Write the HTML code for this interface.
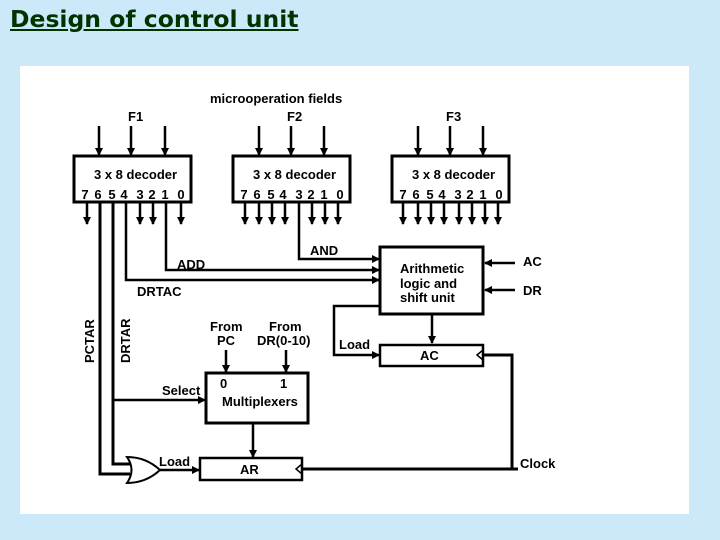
<!DOCTYPE html>
<html><head><style>
body{margin:0;width:720px;height:540px;background:#cce9fa;overflow:hidden;position:relative;font-family:"DejaVu Sans","Liberation Sans",sans-serif}
h1{position:absolute;left:10px;top:5px;margin:0;font-size:23.5px;font-weight:bold;color:#003300;text-decoration:underline}
svg{position:absolute;left:0;top:0}
text{font-family:"Liberation Sans",Arial,sans-serif;font-weight:bold;font-size:13px;fill:#000}
</style></head><body>
<h1>Design of control unit</h1>
<svg width="720" height="540" viewBox="0 0 720 540">
<defs><marker id="a" markerWidth="8" markerHeight="8" refX="7" refY="4" orient="auto" markerUnits="userSpaceOnUse"><path d="M0,0L8,4L0,8z" fill="#000"/></marker></defs>
<rect x="20" y="66" width="669" height="448" fill="#fff"/>
<g stroke="#000" fill="none" stroke-width="3">
<rect x="74" y="156" width="117" height="46"/>
<rect x="233" y="156" width="117" height="46"/>
<rect x="392" y="156" width="117" height="46"/>
<rect x="380" y="247" width="103" height="67"/>
<rect x="380" y="345" width="103" height="21" stroke-width="2.5"/>
<rect x="206" y="373" width="102" height="50"/>
<rect x="200" y="458" width="102" height="22" stroke-width="2.5"/>
</g>
<g stroke="#000" stroke-width="2.5" fill="none" marker-end="url(#a)">
<path d="M99 126V155"/><path d="M131 126V155"/><path d="M165 126V155"/>
<path d="M259 126V155"/><path d="M291 126V155"/><path d="M324 126V155"/>
<path d="M418 126V155"/><path d="M450 126V155"/><path d="M483 126V155"/>
<path d="M87 202V224"/><path d="M140 202V224"/><path d="M153 202V224"/><path d="M181 202V224"/>
<path d="M245 202V224"/><path d="M259 202V224"/><path d="M272 202V224"/><path d="M285 202V224"/><path d="M312 202V224"/><path d="M325 202V224"/><path d="M338 202V224"/>
<path d="M403 202V224"/><path d="M418 202V224"/><path d="M431 202V224"/><path d="M444 202V224"/><path d="M459 202V224"/><path d="M472 202V224"/><path d="M485 202V224"/><path d="M498 202V224"/>
<path d="M299 202V259H379"/>
<path d="M166 202V270H379"/>
<path d="M126 202V280H379"/>
<path d="M515 263H485"/><path d="M515 290H485"/>
<path d="M380 306H334V355H379"/>
<path d="M432 314V343"/>
<path d="M226 350V372"/><path d="M286 350V372"/>
<path d="M113 400H205"/>
<path d="M253 423V457"/>
<path d="M160 470H199"/>
</g>
<g stroke="#000" stroke-width="3" fill="none">
<path d="M100 202V474H130"/>
<path d="M113 202V464H130"/>
<path d="M518 469H303"/>
<path d="M512 469V355H484"/>
<path d="M127 457Q146 457 160 470Q146 483 127 483Q136 470 127 457Z" stroke-width="2"/>
</g>
<g stroke="#000" stroke-width="1.5" fill="none">
<path d="M483 350L477 355L483 360"/><path d="M302 464L296 469L302 474"/>
</g>
<text x="210" y="103">microoperation fields</text>
<text x="128" y="121">F1</text><text x="287" y="121">F2</text><text x="446" y="121">F3</text>
<text x="94" y="179">3 x 8 decoder</text><text x="253" y="179">3 x 8 decoder</text><text x="412" y="179">3 x 8 decoder</text>
<g text-anchor="middle">
<text x="85" y="199">7</text><text x="98" y="199">6</text><text x="112" y="199">5</text><text x="124" y="199">4</text><text x="140" y="199">3</text><text x="152" y="199">2</text><text x="165" y="199">1</text><text x="181" y="199">0</text>
<text x="244" y="199">7</text><text x="257" y="199">6</text><text x="271" y="199">5</text><text x="283" y="199">4</text><text x="299" y="199">3</text><text x="311" y="199">2</text><text x="324" y="199">1</text><text x="340" y="199">0</text>
<text x="403" y="199">7</text><text x="416" y="199">6</text><text x="430" y="199">5</text><text x="442" y="199">4</text><text x="458" y="199">3</text><text x="470" y="199">2</text><text x="483" y="199">1</text><text x="499" y="199">0</text>
</g>
<text x="310" y="255">AND</text><text x="177" y="269">ADD</text><text x="137" y="296">DRTAC</text>
<text x="400" y="273">Arithmetic</text><text x="400" y="288">logic and</text><text x="400" y="302">shift unit</text>
<text x="523" y="266">AC</text><text x="523" y="295">DR</text>
<text x="339" y="349">Load</text><text x="420" y="360">AC</text>
<text x="210" y="331">From</text><text x="217" y="345">PC</text>
<text x="269" y="331">From</text><text x="257" y="345">DR(0-10)</text>
<text x="220" y="388">0</text><text x="280" y="388">1</text>
<text x="222" y="406">Multiplexers</text><text x="162" y="395">Select</text>
<text x="159" y="466">Load</text><text x="240" y="474">AR</text><text x="520" y="468">Clock</text>
<text transform="translate(94,363) rotate(-90)">PCTAR</text>
<text transform="translate(130,363) rotate(-90)">DRTAR</text>
</svg>
</body></html>
